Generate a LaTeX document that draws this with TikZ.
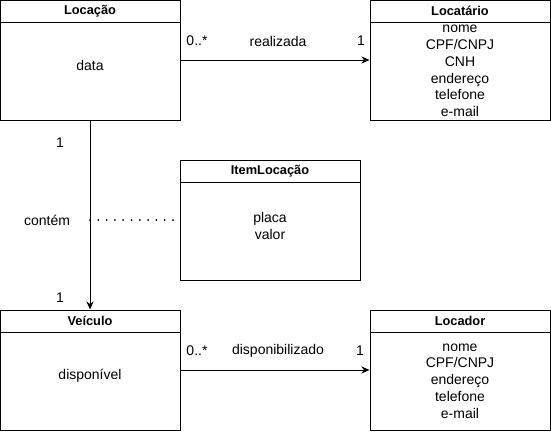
\documentclass[tikz,border=0pt]{standalone}
\usepackage{fontspec}
\setmainfont{Liberation Sans}
\usetikzlibrary{arrows.meta}
\tikzset{
  classbox/.style={draw, line width=1pt, minimum width=180pt, minimum height=120pt, inner sep=0pt},
  classtitle/.style={font=\fontsize{12.8}{14}\selectfont\bfseries},
  attrs/.style={align=center, font=\fontsize{14}{16.8}\selectfont},
  lbl/.style={font=\fontsize{14}{16}\selectfont},
  assoc/.style={line width=1pt, -{Stealth[length=8pt,width=7pt,inset=2.5pt]}},
  dots/.style={line width=2pt, line cap=round, dash pattern=on 0pt off 8.3pt}
}
\begin{document}
\begin{tikzpicture}[x=1pt, y=-1pt]
   \useasboundingbox (0,0) rectangle (551,431);
   % classes
   \node[classbox] (locacao) at (90,60) {};
   \node[classbox] (locatario) at (460,60) {};
   \node[classbox] (item) at (270,220) {};
   \node[classbox] (veiculo) at (90,370) {};
   \node[classbox] (locador) at (460,370) {};
   \foreach \c in {locacao, locatario, item, veiculo, locador}
     \draw[line width=1pt] ([yshift=-23pt]\c.north west) -- ([yshift=-23pt]\c.north east);
   \node[classtitle] at ([yshift=-11.5pt]locacao.north) {Locação};
   \node[classtitle] at ([yshift=-11.5pt]locatario.north) {Locatário};
   \node[classtitle] at ([yshift=-11.5pt]item.north) {ItemLocação};
   \node[classtitle] at ([yshift=-11.5pt]veiculo.north) {Veículo};
   \node[classtitle] at ([yshift=-11.5pt]locador.north) {Locador};
   % attributes
   \node[attrs] at (90,65) {data};
   \node[attrs] at (460,71) {nome\\CPF/CNPJ\\CNH\\endereço\\telefone\\e-mail};
   \node[attrs] at (270,226) {placa\\valor};
   \node[attrs] at (90,376) {disponível};
   \node[attrs] at (460,381) {nome\\CPF/CNPJ\\endereço\\telefone\\e-mail};
   % associations
   \draw[assoc] (locacao.east |- 0,60) -- (locatario.west |- 0,60);
   \node[lbl] at (197,41) {0..*};
   \node[lbl] at (278,41) {realizada};
   \node[lbl] at (361,41) {1};
   \draw[assoc] (locacao.south) -- (veiculo.north);
   \node[lbl] at (60,143) {1};
   \node[lbl] at (60,298) {1};
   \coordinate (contem) at (locacao.south |- item.west);
   \draw[dots] (contem) -- (item.west);
   \node[lbl] at (47,220) {contém};
   \draw[assoc] (veiculo.east) -- (locador.west);
   \node[lbl] at (197,351) {0..*};
   \node[lbl] at (278,351) {disponibilizado};
   \node[lbl] at (360,351) {1};
\end{tikzpicture}
\end{document}
